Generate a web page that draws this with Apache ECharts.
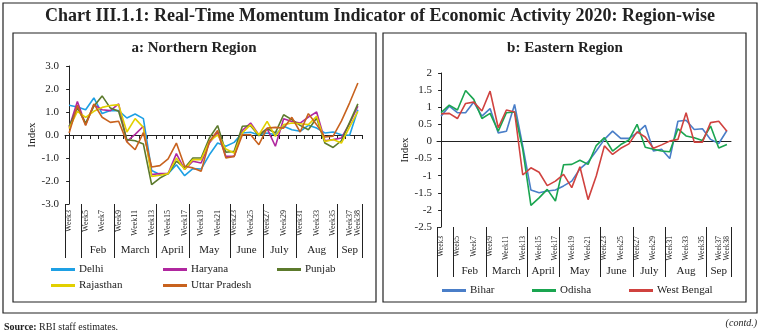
<!DOCTYPE html>
<html>
<head>
<meta charset="utf-8">
<script src="https://cdn.jsdelivr.net/npm/echarts@6/dist/echarts.min.js"></script>
<style>
  html, body { margin: 0; padding: 0; background: #fff; }
  #chart { width: 761px; height: 336px; }
</style>
</head>
<body>
<div id="chart"></div>
<script>
const weeks = []
for (let w = 3; w <= 38; w++) weeks.push('Week' + w)

// month groups: boundaries and label centres in category units
const monthNames = ['Feb', 'March', 'April', 'May', 'June', 'July', 'Aug', 'Sep']
const monthCenters = [3.5, 8, 12.5, 17, 21.5, 25.5, 30, 34]
const monthBounds = [-0.5, 1.5, 5.5, 10.5, 14.5, 19.5, 23.5, 27.5, 32.5, 35.5]

// a: Northern Region
const delhi = [1.29, 1.22, 1.1, 1.61, 0.93, 1.06, 1.06, 0.74, 0.91, 0.71, -1.54, -1.72, -1.68, -1.29, -1.77, -1.46, -1.48, -0.86, -0.35, -0.49, -0.32, 0.09, 0.12, 0.0, 0.09, 0.01, 0.38, 0.23, 0.16, 0.42, 0.3, 0.09, 0.13, 0.01, -0.01, 1.1]
const haryana = [0.33, 1.46, 0.45, 1.32, 1.1, 1.06, 1.35, -0.28, 0.03, 0.38, -1.72, -1.68, -1.68, -0.81, -1.5, -1.14, -1.22, -0.35, 0.12, -0.93, -0.93, 0.2, 0.52, 0.0, 0.28, -0.49, 0.71, 0.59, 0.52, 0.78, 1.0, -0.25, -0.2, -0.13, 0.5, 1.25]
const punjab = [0.38, 1.17, 0.52, 1.25, 1.7, 1.17, 1.03, -0.2, -0.25, -0.39, -2.16, -1.87, -1.68, -1.14, -1.43, -1.0, -1.0, -0.13, 0.41, -0.75, -0.71, 0.38, 0.4, -0.03, 0.28, 0.09, 0.88, 0.67, 0.42, 0.23, 0.74, -0.35, -0.54, -0.25, 0.55, 1.35]
const rajasthan = [0.28, 1.03, 0.77, 1.03, 1.2, 1.28, 1.32, 0.13, 0.71, 0.33, -1.8, -1.75, -1.68, -1.0, -1.5, -1.07, -1.07, -0.28, 0.01, -0.61, -0.78, 0.09, 0.45, 0.0, 0.59, -0.06, 0.45, 0.52, 0.49, 0.45, 0.81, -0.28, -0.2, -0.35, 0.35, 1.03]
const uttarPradesh = [0.09, 1.29, 0.42, 1.35, 0.77, 0.55, 0.6, -0.3, -0.64, 0.1, -1.39, -1.33, -1.04, -0.35, -1.36, -1.43, -1.58, -0.28, 0.2, -1.0, -0.93, 0.01, 0.01, -0.42, 0.3, 0.33, 0.3, 0.77, 0.13, 0.93, 0.45, -0.09, -0.05, 0.6, 1.4, 2.26]

// b: Eastern Region
const bihar = [0.74, 1.03, 0.84, 0.84, 1.15, 0.74, 0.96, 0.25, 0.3, 1.08, -0.14, -1.42, -1.5, -1.45, -1.42, -1.3, -1.16, -0.8, -0.6, -0.28, 0.06, 0.3, 0.09, 0.09, 0.25, 0.47, -0.28, -0.23, -0.5, 0.59, 0.62, 0.35, 0.37, 0.06, -0.06, 0.32]
const odisha = [0.84, 1.06, 0.92, 1.49, 1.23, 0.67, 0.82, 0.3, 0.84, 0.86, -0.23, -1.87, -1.65, -1.4, -1.74, -0.68, -0.67, -0.55, -0.67, -0.12, 0.11, -0.28, -0.09, 0.04, 0.5, -0.17, -0.23, -0.28, -0.3, 0.37, 0.16, 0.11, 0.03, 0.45, -0.19, -0.09]
const westBengal = [0.81, 0.82, 0.67, 1.11, 1.15, 0.89, 1.47, 0.4, 0.92, 0.86, -0.98, -0.77, -0.9, -1.29, -1.16, -0.96, -1.35, -0.74, -1.7, -1.01, -0.13, -0.38, -0.2, -0.07, 0.28, 0.13, -0.2, -0.1, 0.01, 0.06, 0.84, -0.02, -0.02, 0.55, 0.59, 0.3]

const font = 'Liberation Serif'
const ink = '#222'

const line = (name, data, color, x, y) => ({
  name, data, type: 'line', xAxisIndex: x, yAxisIndex: y,
  symbol: 'none', color,
  lineStyle: { width: 1.6, color }
})

// bottom axes: rotated week labels, then month separators and names
const weekAxis = (grid, size, margin) => ({
  type: 'category', gridIndex: grid, data: weeks, position: 'bottom',
  axisLine: { show: false, onZero: false },
  axisTick: { show: false },
  axisLabel: {
    rotate: 90, fontSize: size, fontFamily: font, color: ink, margin,
    showMaxLabel: true, hideOverlap: false,
    interval: (i) => i % 2 === 0 || i === weeks.length - 1
  }
})
const monthAxis = (grid, tickLen, margin) => ({
  type: 'value', gridIndex: grid, min: -0.5, max: 35.5, position: 'bottom',
  axisLine: { show: false, onZero: false },
  splitLine: { show: false },
  axisTick: { show: true, length: tickLen, customValues: monthBounds, lineStyle: { color: ink, width: 1 } },
  axisLabel: {
    margin, fontSize: 11, fontFamily: font, color: ink,
    customValues: monthCenters,
    formatter: (v) => monthNames[monthCenters.findIndex(c => Math.abs(c - v) < 0.01)] || ''
  }
})

// one legend per item so they sit in fixed columns
const legendItem = (name, left, top) => ({
  data: [name], left, top,
  icon: 'rect', itemWidth: 24, itemHeight: 3, itemGap: 0,
  textStyle: { fontFamily: font, fontSize: 11, color: ink, padding: [0, 0, 0, -1] }
})

const chart = echarts.init(document.getElementById('chart'))
chart.setOption({
  animation: false,
  backgroundColor: '#fff',
  title: [
    {
      text: 'Chart III.1.1: Real-Time Momentum Indicator of Economic Activity 2020: Region-wise',
      left: 380, textAlign: 'center', top: 7, padding: 0,
      textStyle: { fontFamily: font, fontSize: 18, fontWeight: 'bold', color: ink }
    },
    {
      text: 'a: Northern Region', left: 194, textAlign: 'center', top: 41, padding: 0,
      textStyle: { fontFamily: font, fontSize: 15, fontWeight: 'bold', color: ink }
    },
    {
      text: 'b: Eastern Region', left: 565, textAlign: 'center', top: 41, padding: 0,
      textStyle: { fontFamily: font, fontSize: 15, fontWeight: 'bold', color: ink }
    }
  ],
  legend: [
    legendItem('Delhi', 46, 259),
    legendItem('Haryana', 158, 259),
    legendItem('Punjab', 272, 259),
    legendItem('Rajasthan', 46, 275),
    legendItem('Uttar Pradesh', 158, 275),
    legendItem('Bihar', 437, 280),
    legendItem('Odisha', 527, 280),
    legendItem('West Bengal', 624, 280)
  ],
  grid: [
    { left: 65, top: 66, width: 297, height: 138 },
    { left: 437, top: 73, width: 294, height: 154 }
  ],
  xAxis: [
    {
      type: 'category', gridIndex: 0, data: weeks,
      axisLine: { onZero: true, lineStyle: { color: ink, width: 1 } },
      axisTick: { show: true, interval: 0, length: 4, lineStyle: { color: ink } },
      axisLabel: { show: false }
    },
    weekAxis(0, 8, 6),
    monthAxis(0, 54, 41),
    {
      type: 'category', gridIndex: 1, data: weeks,
      axisLine: { onZero: true, lineStyle: { color: ink, width: 1 } },
      axisTick: { show: false },
      axisLabel: { show: false }
    },
    weekAxis(1, 7.5, 9),
    monthAxis(1, 50, 39)
  ],
  yAxis: [
    {
      type: 'value', gridIndex: 0, min: -3, max: 3, interval: 1,
      name: 'Index', nameLocation: 'middle', nameGap: 27,
      nameTextStyle: { fontFamily: font, fontSize: 11, color: ink },
      axisLine: { show: true, lineStyle: { color: ink } },
      axisTick: { show: true, length: 3, lineStyle: { color: ink } },
      splitLine: { show: false },
      axisLabel: { fontFamily: font, fontSize: 11, color: ink, margin: 6, formatter: (v) => v.toFixed(1) }
    },
    {
      type: 'value', gridIndex: 1, min: -2.5, max: 2, interval: 0.5,
      name: 'Index', nameLocation: 'middle', nameGap: 26,
      nameTextStyle: { fontFamily: font, fontSize: 11, color: ink },
      axisLine: { show: true, lineStyle: { color: ink } },
      axisTick: { show: true, length: 3, lineStyle: { color: ink } },
      splitLine: { show: false },
      axisLabel: { fontFamily: font, fontSize: 11, color: ink, margin: 5 }
    }
  ],
  series: [
    line('Delhi', delhi, '#1ea0e4', 0, 0),
    line('Haryana', haryana, '#b0279f', 0, 0),
    line('Punjab', punjab, '#5c7a2c', 0, 0),
    line('Rajasthan', rajasthan, '#e2d000', 0, 0),
    line('Uttar Pradesh', uttarPradesh, '#c8621e', 0, 0),
    line('Bihar', bihar, '#4a7ec8', 3, 1),
    line('Odisha', odisha, '#1aa550', 3, 1),
    line('West Bengal', westBengal, '#d0423f', 3, 1)
  ],
  graphic: [
    { type: 'rect', shape: { x: 3, y: 3, width: 754, height: 310 }, style: { fill: 'none', stroke: ink, lineWidth: 1.2 } },
    { type: 'rect', shape: { x: 13, y: 33, width: 363, height: 269 }, style: { fill: 'none', stroke: ink, lineWidth: 1.2 } },
    { type: 'rect', shape: { x: 383, y: 33, width: 363, height: 269 }, style: { fill: 'none', stroke: ink, lineWidth: 1.2 } },
    {
      type: 'text', left: 4, top: 322,
      style: {
        text: '{b|Source:} RBI staff estimates.', fontFamily: font, fontSize: 10, fill: ink,
        rich: { b: { fontWeight: 'bold', fontFamily: font, fontSize: 10 } }
      }
    },
    {
      type: 'text', right: 4, top: 318,
      style: { text: '(contd.)', fontFamily: font, fontSize: 10, fontStyle: 'italic', fill: ink }
    }
  ]
})
</script>
</body>
</html>
